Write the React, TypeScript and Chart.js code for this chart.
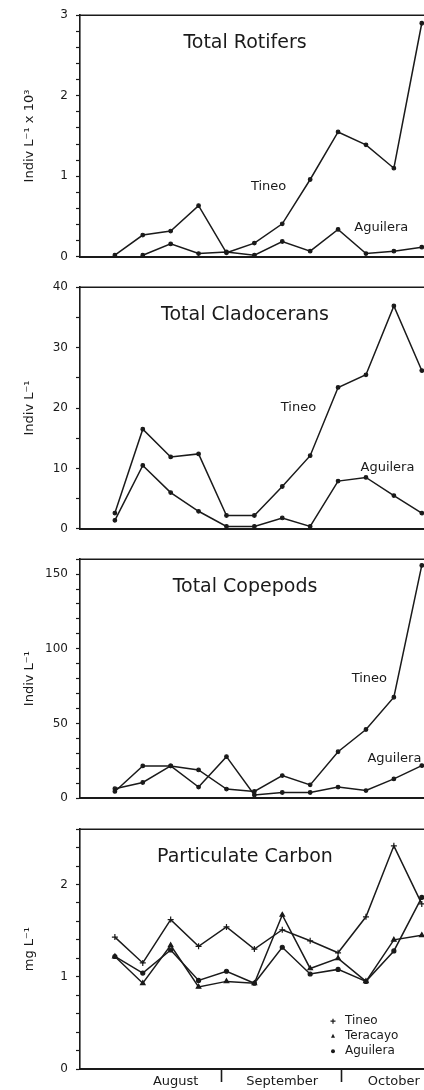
import React, { useEffect, useRef } from 'react';
import { Chart, registerables } from 'chart.js';

Chart.register(...registerables);

// ---- data (12 sampling dates, Aug–Oct) ----
const sampleIndex = [0, 1, 2, 3, 4, 5, 6, 7, 8, 9, 10, 11];

const rotiferTineo = [0.02, 0.27, 0.32, 0.635, 0.05, 0.17, 0.41, 0.96, 1.55, 1.39, 1.1, 2.9];
const rotiferAguilera = [null, 0.02, 0.16, 0.04, 0.06, 0.02, 0.19, 0.07, 0.34, 0.04, 0.07, 0.12];

const cladoceranTineo = [2.6, 16.5, 11.9, 12.4, 2.2, 2.2, 7.0, 12.1, 23.4, 25.5, 36.9, 26.2];
const cladoceranAguilera = [1.4, 10.5, 6.0, 2.9, 0.4, 0.4, 1.8, 0.4, 7.9, 8.5, 5.5, 2.6];

const copepodTineo = [4.4, 21.5, 21.5, 18.8, 6.0, 4.4, 15.0, 8.8, 31.0, 45.9, 67.5, 155.8];
const copepodAguilera = [6.2, 10.4, 21.5, 7.3, 27.7, 2.0, 3.7, 3.7, 7.3, 5.0, 12.8, 21.7];

const carbonTineo = [1.43, 1.15, 1.62, 1.33, 1.54, 1.3, 1.51, 1.39, 1.26, 1.65, 2.42, 1.79];
const carbonTeracayo = [1.22, 0.93, 1.34, 0.89, 0.95, 0.93, 1.67, 1.09, 1.2, 0.95, 1.4, 1.45];
const carbonAguilera = [1.22, 1.04, 1.29, 0.96, 1.06, 0.93, 1.32, 1.03, 1.08, 0.95, 1.28, 1.86];

const monthTickValues = [2.18, 3.83, 6.0, 8.12, 10.0];
const monthTickLabels = ['August', '', 'September', '', 'October'];

const FONT = "'DejaVu Sans', sans-serif";
const INK = '#1a1a1a';

type Series = { label: string; values: (number | null)[]; pointStyle: string; radius: number };
type Note = { text: string; x: number; y: number };
type PanelSpec = {
  title: string;
  yTitle: string;
  yMax: number;
  yStep: number;
  yLabelEvery: number;
  series: Series[];
  notes: Note[];
  height: number;
  padTop: number;
  xAxisHeight: number;
  months?: boolean;
  legend?: boolean;
};

const panels: PanelSpec[] = [
  {
    title: 'Total Rotifers',
    yTitle: 'Indiv L\u207B\u00B9 x 10\u00B3',
    yMax: 3,
    yStep: 0.2,
    yLabelEvery: 1,
    series: [
      { label: 'Tineo', values: rotiferTineo, pointStyle: 'circle', radius: 1.8 },
      { label: 'Aguilera', values: rotiferAguilera, pointStyle: 'circle', radius: 1.8 },
    ],
    notes: [
      { text: 'Tineo', x: 5.51, y: 0.87 },
      { text: 'Aguilera', x: 9.55, y: 0.36 },
    ],
    height: 272,
    padTop: 15,
    xAxisHeight: 13,
  },
  {
    title: 'Total Cladocerans',
    yTitle: 'Indiv L\u207B\u00B9',
    yMax: 40,
    yStep: 5,
    yLabelEvery: 10,
    series: [
      { label: 'Tineo', values: cladoceranTineo, pointStyle: 'circle', radius: 1.8 },
      { label: 'Aguilera', values: cladoceranAguilera, pointStyle: 'circle', radius: 1.8 },
    ],
    notes: [
      { text: 'Tineo', x: 6.58, y: 20.0 },
      { text: 'Aguilera', x: 9.77, y: 10.1 },
    ],
    height: 272,
    padTop: 15,
    xAxisHeight: 15,
  },
  {
    title: 'Total Copepods',
    yTitle: 'Indiv L\u207B\u00B9',
    yMax: 160,
    yStep: 10,
    yLabelEvery: 50,
    series: [
      { label: 'Tineo', values: copepodTineo, pointStyle: 'circle', radius: 1.8 },
      { label: 'Aguilera', values: copepodAguilera, pointStyle: 'circle', radius: 1.8 },
    ],
    notes: [
      { text: 'Tineo', x: 9.12, y: 80 },
      { text: 'Aguilera', x: 10.02, y: 26.4 },
    ],
    height: 270,
    padTop: 13,
    xAxisHeight: 16,
  },
  {
    title: 'Particulate Carbon',
    yTitle: 'mg L\u207B\u00B9',
    yMax: 2.6,
    yStep: 0.2,
    yLabelEvery: 1,
    series: [
      { label: 'Tineo', values: carbonTineo, pointStyle: 'cross', radius: 3 },
      { label: 'Teracayo', values: carbonTeracayo, pointStyle: 'triangle', radius: 2.6 },
      { label: 'Aguilera', values: carbonAguilera, pointStyle: 'circle', radius: 2 },
    ],
    notes: [],
    height: 276,
    padTop: 12,
    xAxisHeight: 21,
    months: true,
    legend: true,
  },
];

function isMajor(v: number, every: number) {
  const r = v / every;
  return Math.abs(r - Math.round(r)) < 1e-6;
}

function drawMarker(ctx: CanvasRenderingContext2D, style: string, x: number, y: number, r: number) {
  ctx.beginPath();
  if (style === 'cross') {
    ctx.moveTo(x - r, y);
    ctx.lineTo(x + r, y);
    ctx.moveTo(x, y - r);
    ctx.lineTo(x, y + r);
    ctx.stroke();
  } else if (style === 'triangle') {
    ctx.moveTo(x, y - r * 1.2);
    ctx.lineTo(x + r, y + r * 0.8);
    ctx.lineTo(x - r, y + r * 0.8);
    ctx.closePath();
    ctx.fill();
  } else {
    ctx.arc(x, y, r, 0, Math.PI * 2);
    ctx.fill();
  }
}

function Panel({ spec }: { spec: PanelSpec }) {
  const ref = useRef<HTMLCanvasElement>(null);

  useEffect(() => {
    const textPlugin = {
      id: 'panelText',
      afterDraw(chart: any) {
        const { ctx, chartArea, scales } = chart;
        ctx.save();
        // top frame line
        ctx.strokeStyle = INK;
        ctx.lineWidth = 1.6;
        ctx.beginPath();
        ctx.moveTo(chartArea.left, chartArea.top);
        ctx.lineTo(chartArea.right, chartArea.top);
        ctx.stroke();
        // title
        ctx.fillStyle = INK;
        ctx.textAlign = 'center';
        ctx.textBaseline = 'middle';
        ctx.font = `19px ${FONT}`;
        ctx.fillText(spec.title, chartArea.left + 165, chartArea.top + 28);
        // series notes
        ctx.font = `13px ${FONT}`;
        spec.notes.forEach((n) => {
          ctx.fillText(n.text, scales.x.getPixelForValue(n.x), scales.y.getPixelForValue(n.y));
        });
        // legend
        if (spec.legend) {
          ctx.textAlign = 'left';
          ctx.font = `12px ${FONT}`;
          spec.series.forEach((s, i) => {
            const y = chartArea.top + 192 + i * 15;
            ctx.lineWidth = 1.2;
            drawMarker(ctx, s.pointStyle, chartArea.left + 253, y, s.pointStyle === 'cross' ? 2.5 : 2);
            ctx.fillText(s.label, chartArea.left + 265, y);
          });
        }
        ctx.restore();
      },
    };

    const chart = new Chart(ref.current!, {
      type: 'line',
      data: {
        datasets: spec.series.map((s) => ({
          label: s.label,
          data: sampleIndex
            .map((i) => ({ x: i, y: s.values[i] }))
            .filter((p) => p.y !== null) as any,
          borderColor: INK,
          backgroundColor: INK,
          borderWidth: 1.5,
          pointStyle: s.pointStyle as any,
          pointRadius: s.radius,
          pointBackgroundColor: INK,
          pointBorderColor: INK,
          pointBorderWidth: 1.2,
          tension: 0,
          clip: false as any,
        })),
      },
      options: {
        animation: false,
        responsive: true,
        maintainAspectRatio: false,
        events: [],
        layout: { autoPadding: false, padding: { top: spec.padTop, left: 0, right: 0, bottom: 0 } },
        plugins: {
          legend: { display: false },
          tooltip: { enabled: false },
          title: { display: false },
        },
        scales: {
          x: {
            type: 'linear',
            min: -1.25,
            max: 11.08,
            border: { display: true, color: INK, width: 2 },
            grid: spec.months
              ? {
                  display: true,
                  drawOnChartArea: false,
                  drawTicks: true,
                  tickLength: 13,
                  tickWidth: 1.6,
                  tickColor: (c: any) => (monthTickLabels[c.index] === '' ? INK : 'rgba(0,0,0,0)'),
                }
              : { display: false },
            ticks: spec.months
              ? {
                  display: true,
                  autoSkip: false,
                  maxRotation: 0,
                  padding: -8,
                  color: INK,
                  font: { family: FONT, size: 13 },
                  callback: (_v: any, i: number) => monthTickLabels[i],
                }
              : { display: false },
            afterBuildTicks: spec.months
              ? (s: any) => {
                  s.ticks = monthTickValues.map((v) => ({ value: v }));
                }
              : undefined,
            afterFit: (s: any) => {
              s.height = spec.xAxisHeight;
            },
          } as any,
          y: {
            type: 'linear',
            min: 0,
            max: spec.yMax,
            border: { display: true, color: INK, width: 1.6 },
            grid: {
              display: true,
              drawOnChartArea: false,
              drawTicks: true,
              tickLength: 4,
              tickColor: INK,
              tickWidth: 1.2,
            },
            ticks: {
              stepSize: spec.yStep,
              autoSkip: false,
              padding: 8,
              color: INK,
              font: { family: FONT, size: 12 },
              callback: (v: any) => (isMajor(Number(v), spec.yLabelEvery) ? String(Math.round(Number(v))) : ''),
            },
            title: {
              display: true,
              text: spec.yTitle,
              color: INK,
              font: { family: FONT, size: 13 },
              padding: { top: 22, bottom: 0 },
            },
            afterFit: (s: any) => {
              s.width = 80;
            },
          } as any,
        },
      },
      plugins: [textPlugin],
    });
    return () => chart.destroy();
  }, [spec]);

  return (
    <div style={{ position: 'relative', width: 424, height: spec.height }}>
      <canvas ref={ref} />
    </div>
  );
}

export default function App() {
  return (
    <div style={{ position: 'absolute', left: 0, top: 0, width: 424, height: 1090, background: '#fff' }}>
      {panels.map((p) => (
        <Panel key={p.title} spec={p} />
      ))}
    </div>
  );
}
